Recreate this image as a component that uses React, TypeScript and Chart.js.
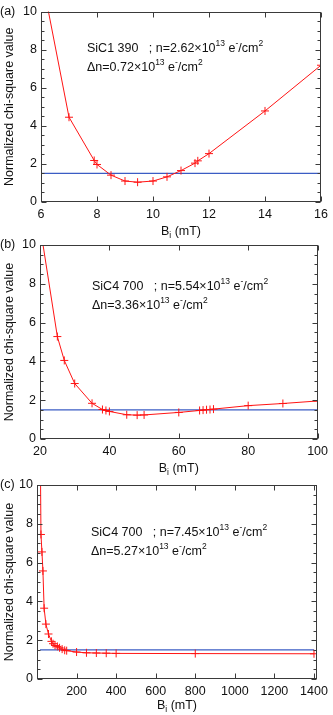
import React, { useEffect, useRef } from 'react';
import { Chart, registerables } from 'chart.js';
Chart.register(...registerables);

const FONT = '"Liberation Sans", Arial, Helvetica, sans-serif';

// ---- data ----
const bA = [6, 7, 7.9, 8, 8.5, 9, 9.45, 10, 10.5, 11, 11.5, 11.6, 12, 14, 16];
const chiA = [12.0, 4.45, 2.18, 1.97, 1.41, 1.1, 1.04, 1.1, 1.32, 1.65, 2.04, 2.16, 2.54, 4.78, 7.18];

const bB = [20, 25, 27, 30, 35, 38, 39, 40, 45, 48, 50, 60, 66, 67, 68, 69, 70, 80, 90, 100];
const chiB = [11.0, 5.28, 4.05, 2.86, 1.84, 1.52, 1.47, 1.42, 1.25, 1.23, 1.24, 1.37, 1.47, 1.49, 1.51, 1.52, 1.54, 1.72, 1.83, 1.96];

const bC = [15, 20, 25, 30, 36, 45, 58, 73, 81, 91, 103, 114, 127, 140, 150, 200, 250, 300, 350, 400, 800, 1400];
const chiC = [14.0, 7.45, 6.55, 5.57, 3.65, 2.83, 2.32, 1.94, 1.82, 1.73, 1.68, 1.61, 1.54, 1.48, 1.46, 1.39, 1.35, 1.34, 1.33, 1.32, 1.31, 1.30];

const threshold = 1.5;
const refRangeA = [6, 16];
const refRangeB = [20, 100];
const refRangeC = [15, 1400];

const yTickValues = [0, 2, 4, 6, 8, 10];
const xTicksA = [6, 8, 10, 12, 14, 16];
const xTicksB = [20, 40, 60, 80, 100];
const xTicksC = [200, 400, 600, 800, 1000, 1200, 1400];

const samples = ['SiC1 390', 'SiC4 700', 'SiC4 700'];
const nValues = ['2.62', '5.54', '7.45'];
const dnValues = ['0.72', '3.36', '5.27'];
const letters = ['(a)', '(b)', '(c)'];

const yTitle = 'Normalized chi-square value';

type Panel = {
  idx: number; B: number[]; chi: number[]; xMin: number; xMax: number; xTicks: number[];
  ref: number[]; top: number; height: number; padTop: number; plotLeft: number; padRight: number;
  axisH: number; textDx: number; textDy: number; titleDy: number;
};

const panels: Panel[] = [
  { idx: 0, B: bA, chi: chiA, xMin: 6, xMax: 16, xTicks: xTicksA, ref: refRangeA, top: 0, height: 240, padTop: 8, plotLeft: 41, padRight: 12, axisH: 38, textDx: 46, textDy: 40, titleDy: 33 },
  { idx: 1, B: bB, chi: chiB, xMin: 20, xMax: 100, xTicks: xTicksB, ref: refRangeB, top: 230, height: 246, padTop: 15, plotLeft: 40, padRight: 12, axisH: 37, textDx: 52, textDy: 45, titleDy: 33 },
  { idx: 2, B: bC, chi: chiC, xMin: 0, xMax: 1415, xTicks: xTicksC, ref: refRangeC, top: 470, height: 245, padTop: 15, plotLeft: 37, padRight: 10, axisH: 36, textDx: 54, textDy: 51, titleDy: 30 },
];

type Part = [string, 'n' | 'sup' | 'sub'];

function measureRich(ctx: CanvasRenderingContext2D, parts: Part[], size: number) {
  let w = 0;
  for (const [t, k] of parts) {
    ctx.font = `${k === 'n' ? size : size * 0.68}px ${FONT}`;
    w += ctx.measureText(t).width;
  }
  return w;
}

function drawRich(ctx: CanvasRenderingContext2D, x: number, y: number, parts: Part[], size: number) {
  let cx = x;
  ctx.textAlign = 'left';
  ctx.textBaseline = 'alphabetic';
  for (const [t, k] of parts) {
    const s = k === 'n' ? size : size * 0.68;
    ctx.font = `${s}px ${FONT}`;
    const dy = k === 'sup' ? -size * 0.48 : k === 'sub' ? size * 0.25 : 0;
    ctx.fillText(t, cx, y + dy);
    cx += ctx.measureText(t).width;
  }
}

function PanelChart({ p }: { p: Panel }) {
  const ref = useRef<HTMLCanvasElement | null>(null);
  useEffect(() => {
    const canvas = ref.current!;
    const overlay = {
      id: 'frameAndText',
      afterDraw(chart: any) {
        const { ctx, chartArea: ca, scales } = chart;
        const xs = scales.x, ys = scales.y;
        ctx.save();
        ctx.strokeStyle = '#3a3a3a';
        ctx.lineWidth = 1;
        const L = Math.round(ca.left) + 0.5, R = Math.round(ca.right) - 0.5;
        const T = Math.round(ca.top) + 0.5, Bt = Math.round(ca.bottom) - 0.5;
        ctx.strokeRect(L, T, R - L, Bt - T);
        ctx.beginPath();
        for (let v = 0; v <= 10.001; v += 0.5) {
          const py = Math.round(ys.getPixelForValue(v)) + 0.5;
          const len = Math.abs(v % 2) < 1e-6 ? 5 : 3;
          ctx.moveTo(L, py); ctx.lineTo(L + len, py);
          ctx.moveTo(R, py); ctx.lineTo(R - len, py);
        }
        for (const v of p.xTicks) {
          const px = Math.round(xs.getPixelForValue(v)) + 0.5;
          ctx.moveTo(px, Bt); ctx.lineTo(px, Bt - 5);
          ctx.moveTo(px, T); ctx.lineTo(px, T + 5);
        }
        ctx.stroke();

        ctx.fillStyle = '#111';
        const size = 12.5;
        const l1: Part[] = [[samples[p.idx] + '   ; n=' + nValues[p.idx] + '\u00d710', 'n'], ['13', 'sup'], [' e', 'n'], ['-', 'sup'], ['/cm', 'n'], ['2', 'sup']];
        const l2: Part[] = [['\u0394n=' + dnValues[p.idx] + '\u00d710', 'n'], ['13', 'sup'], [' e', 'n'], ['-', 'sup'], ['/cm', 'n'], ['2', 'sup']];
        drawRich(ctx, ca.left + p.textDx, ca.top + p.textDy, l1, size);
        drawRich(ctx, ca.left + p.textDx, ca.top + p.textDy + 19, l2, size);

        // panel letter
        ctx.font = `${size}px ${FONT}`;
        ctx.textAlign = 'left';
        ctx.textBaseline = 'middle';
        ctx.fillText(letters[p.idx], 0, ca.top);

        // x title
        const xt: Part[] = [['B', 'n'], ['i', 'sub'], [' (mT)', 'n']];
        const w = measureRich(ctx, xt, size);
        drawRich(ctx, (ca.left + ca.right) / 2 - w / 2, ca.bottom + p.titleDy, xt, size);

        // y title
        ctx.save();
        ctx.translate(13, (ca.top + ca.bottom) / 2);
        ctx.rotate(-Math.PI / 2);
        ctx.font = `${size}px ${FONT}`;
        ctx.textAlign = 'center';
        ctx.textBaseline = 'alphabetic';
        ctx.fillText(yTitle, 0, 0);
        ctx.restore();
        ctx.restore();
      },
    };

    const chart = new Chart(canvas, {
      type: 'line',
      data: {
        datasets: [
          {
            data: p.B.map((b, i) => ({ x: b, y: p.chi[i] })),
            borderColor: 'rgb(255,20,20)',
            borderWidth: 1,
            pointStyle: 'cross',
            pointRadius: 4,
            pointBorderWidth: 1,
            pointBorderColor: 'rgb(255,20,20)',
            pointBackgroundColor: 'rgb(255,20,20)',
            tension: 0,
          },
          {
            data: p.ref.map((b) => ({ x: b, y: threshold })),
            borderColor: '#3b5cc4',
            borderWidth: 1.3,
            pointRadius: 0,
          },
        ],
      },
      options: {
        animation: false,
        responsive: false,
        devicePixelRatio: 1,
        layout: { padding: { top: p.padTop, right: p.padRight, left: 0, bottom: 0 } },
        plugins: { legend: { display: false }, tooltip: { enabled: false } },
        scales: {
          x: {
            type: 'linear',
            min: p.xMin,
            max: p.xMax,
            grid: { display: false, drawTicks: false },
            border: { display: false },
            afterBuildTicks: (s: any) => { s.ticks = p.xTicks.map((v) => ({ value: v })); },
            afterFit: (s: any) => { s.height = p.axisH; },
            ticks: {
              autoSkip: false, maxRotation: 0, padding: 5, color: '#111',
              font: { family: FONT, size: 12.5 },
              callback: (v: any) => String(v),
            },
          },
          y: {
            type: 'linear',
            min: 0,
            max: 10,
            grid: { display: false, drawTicks: false },
            border: { display: false },
            afterBuildTicks: (s: any) => { s.ticks = yTickValues.map((v) => ({ value: v })); },
            afterFit: (s: any) => { s.width = p.plotLeft; },
            ticks: {
              autoSkip: false, padding: 4, color: '#111',
              font: { family: FONT, size: 12.5 },
              callback: (v: any) => String(v),
            },
          },
        },
      },
      plugins: [overlay],
    } as any);
    return () => chart.destroy();
  }, [p]);
  return (
    <canvas
      ref={ref}
      width={333}
      height={p.height}
      style={{ position: 'absolute', left: 0, top: p.top, width: 333, height: p.height }}
    />
  );
}

export default function App() {
  return (
    <div style={{ position: 'absolute', left: 0, top: 0, width: 333, height: 715, background: '#fff' }}>
      {panels.map((p) => (
        <PanelChart key={p.idx} p={p} />
      ))}
    </div>
  );
}
